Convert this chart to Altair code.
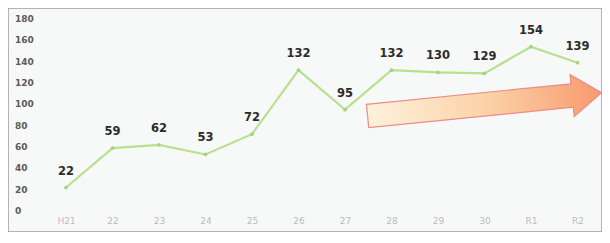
import altair as alt
import pandas as pd

years = ["H21", "22", "23", "24", "25", "26", "27", "28", "29", "30", "R1", "R2"]
values = [22, 59, 62, 53, 72, 132, 95, 132, 130, 129, 154, 139]
y_ticks = [0, 20, 40, 60, 80, 100, 120, 140, 160, 180]

# decorative trend arrow (center in data units)
arrow_x = [9.0]
arrow_y = [100]

df = pd.DataFrame({"i": list(range(len(years))), "year": years, "v": values})
arrow_df = pd.DataFrame({"x": arrow_x, "y": arrow_y})
tick_df = pd.DataFrame({"t": y_ticks})

label_expr = "[" + ",".join(f"'{y}'" for y in years) + "][datum.value]"

xscale = alt.Scale(domain=[-1.247, 11.527], nice=False, zero=False)
yscale = alt.Scale(domain=[-19.7, 190.3], nice=False, zero=False)

xaxis = alt.Axis(
    values=list(range(len(years))), labelExpr=label_expr, title=None,
    domain=False, ticks=False, grid=False, orient="bottom", offset=-16,
    labelPadding=0, labelColor="#b8bcbc", labelFontSize=9, labelFont="DejaVu Sans",
    labelOverlap=False)

X = alt.X("i:Q", scale=xscale, axis=xaxis)
Y = alt.Y("v:Q", scale=yscale, axis=None)

base = alt.Chart(df)

line = base.mark_line(color="#b8e08e", strokeWidth=2.2).encode(x=X, y=Y)

pts = base.mark_point(filled=True, color="#a6d47c", size=14, opacity=1).encode(x=X, y=Y)

labels = base.mark_text(dy=-16, baseline="middle", align="center", fontSize=11.5,
                        fontWeight="bold", font="DejaVu Sans", color="#2b2b2b").encode(
    x=X, y=Y, text="v:Q")

ylabels = alt.Chart(tick_df).mark_text(
    align="left", baseline="middle", fontSize=9, fontWeight="bold",
    font="DejaVu Sans", color="#5a5a5a").encode(
    x=alt.value(7), y=alt.Y("t:Q", scale=yscale, axis=None), text="t:Q")

arrow_path = "M-1,-0.1 L0.75,-0.1 L0.75,-0.18 L1,0 L0.75,0.18 L0.75,0.1 L-1,0.1 Z"
arrow = alt.Chart(arrow_df).mark_point(
    shape=arrow_path, size=55225, angle=354.3, filled=True, opacity=1,
    fill=alt.Gradient(gradient="linear",
                      stops=[alt.GradientStop(color="#fdf1dc", offset=0),
                             alt.GradientStop(color="#fbd3a8", offset=0.5),
                             alt.GradientStop(color="#f79a6e", offset=1)],
                      x1=0, x2=1, y1=0, y2=0),
    stroke="#ec8a86", strokeWidth=1.2,
).encode(x=alt.X("x:Q", scale=xscale, axis=xaxis),
         y=alt.Y("y:Q", scale=yscale, axis=None))

chart = alt.layer(arrow, line, pts, labels, ylabels).properties(
    width=594, height=224, background="#f7f9f9", padding=0,
    autosize=alt.AutoSizeParams(type="none"),
).configure_view(stroke="#9c9c9c", strokeWidth=1.5, fill="#f7f9f9")

chart.save("out.html", embed_options={"renderer": "svg", "actions": False})
